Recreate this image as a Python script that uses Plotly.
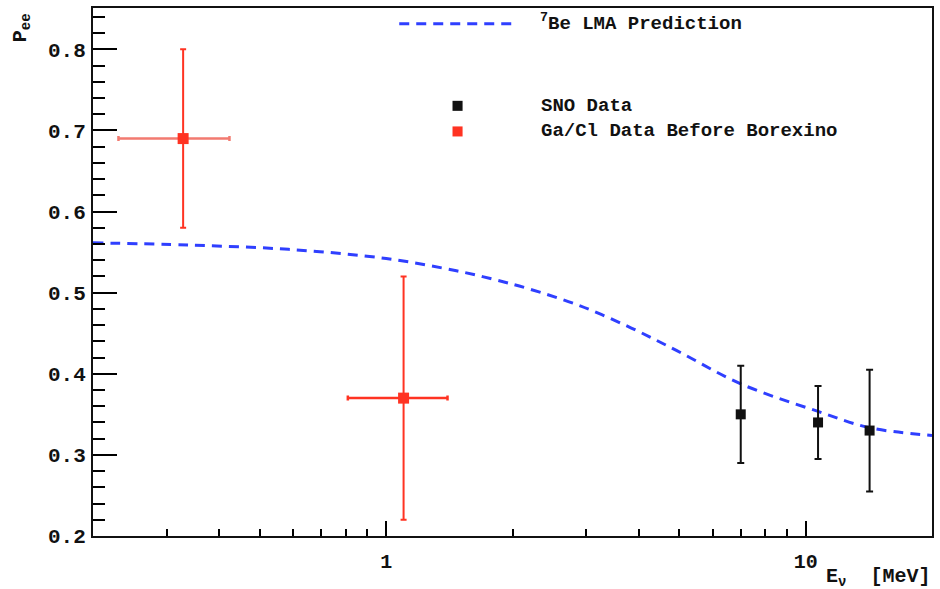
import math
import plotly.graph_objects as go

# ---------------- data ----------------
# 7Be LMA prediction curve
lma_energy = [0.2, 0.338, 0.585, 1.0, 1.47, 1.80, 2.18, 2.90, 3.84, 4.93, 7.0, 10.7, 14.2, 20.0]
lma_pee = [0.5615, 0.5587, 0.5534, 0.5421, 0.527, 0.5165, 0.505, 0.4838, 0.4564, 0.4285,
           0.3876, 0.3536, 0.3335, 0.324]

# SNO data
sno_energy = [7.0, 10.7, 14.2]
sno_pee = [0.35, 0.34, 0.33]
sno_err = [0.06, 0.045, 0.075]

# Ga/Cl data before Borexino
gacl_energy = [0.328, 1.10]
gacl_pee = [0.69, 0.37]
gacl_yerr = [0.11, 0.15]
gacl_xerr_plus = [0.095, 0.30]
gacl_xerr_minus = [0.098, 0.29]

x_major_ticks = [1, 10]
x_major_labels = ["1", "10"]
x_minor_ticks = [0.3, 0.4, 0.5, 0.6, 0.7, 0.8, 0.9, 2, 3, 4, 5, 6, 7, 8, 9]

legend_line_label = "<sup>7</sup>Be LMA Prediction"
legend_sno_label = "SNO Data"
legend_gacl_label = "Ga/Cl Data Before Borexino"

# ---------------- style ----------------
FONT = "Liberation Mono"
BLACK = "#111111"
RED = "#ff3322"
RED_LIGHT = "#f27a70"
BLUE = "#2f3fff"

fig = go.Figure()

fig.add_trace(go.Scatter(
    x=lma_energy, y=lma_pee, mode="lines", line_shape="spline",
    line=dict(color=BLUE, width=3, dash="10px,7px"),
    name="7Be LMA Prediction", showlegend=False, hoverinfo="skip"))

fig.add_trace(go.Scatter(
    x=sno_energy, y=sno_pee, mode="markers",
    marker=dict(symbol="square", size=10, color=BLACK),
    error_y=dict(type="data", array=sno_err, color=BLACK, thickness=2, width=3.5),
    name=legend_sno_label, showlegend=False))

xerr_colors = [RED_LIGHT, RED]
for i in range(len(gacl_energy)):
    fig.add_trace(go.Scatter(
        x=[gacl_energy[i]], y=[gacl_pee[i]], mode="markers",
        marker=dict(symbol="square", size=11, color=RED),
        error_y=dict(type="data", array=[gacl_yerr[i]], color=RED, thickness=2, width=3),
        error_x=dict(type="data", array=[gacl_xerr_plus[i]], arrayminus=[gacl_xerr_minus[i]],
                     color=xerr_colors[i], thickness=2.5, width=2.5),
        name=legend_gacl_label, showlegend=False))

# ---------------- legend (drawn by hand, in paper coordinates) ----------------
shapes = [
    dict(type="line", xref="paper", yref="paper", x0=0.365, x1=0.504, y0=0.970, y1=0.970,
         line=dict(color=BLUE, width=3, dash="10px,7px")),
    dict(type="rect", xref="paper", yref="paper", x0=0.4285, x1=0.4405, y0=0.8052, y1=0.8242,
         fillcolor=BLACK, line=dict(width=0)),
    dict(type="rect", xref="paper", yref="paper", x0=0.4285, x1=0.4405, y0=0.7567, y1=0.7757,
         fillcolor=RED, line=dict(width=0)),
]
annotations = [
    dict(text=legend_line_label, xref="paper", yref="paper", x=0.530, y=0.972,
         xanchor="left", yanchor="middle", showarrow=False,
         font=dict(family=FONT, size=19, color=BLACK, weight="bold")),
    dict(text=legend_sno_label, xref="paper", yref="paper", x=0.532, y=0.8147,
         xanchor="left", yanchor="middle", showarrow=False,
         font=dict(family=FONT, size=19, color=BLACK, weight="bold")),
    dict(text=legend_gacl_label, xref="paper", yref="paper", x=0.532, y=0.7662,
         xanchor="left", yanchor="middle", showarrow=False,
         font=dict(family=FONT, size=19, color=BLACK, weight="bold")),
    # axis titles
    dict(text="E<sub>ν</sub>  [MeV]", xref="paper", yref="paper", x=1.0, y=-0.078,
         xanchor="right", yanchor="middle", showarrow=False,
         font=dict(family=FONT, size=20, color=BLACK, weight="bold")),
    dict(text="P<sub>ee</sub>", xref="paper", yref="paper", x=-0.0856, y=0.962,
         xanchor="center", yanchor="middle", textangle=-90, showarrow=False,
         font=dict(family=FONT, size=20, color=BLACK, weight="bold")),
]

fig.update_layout(
    width=940, height=589,
    margin=dict(l=93, r=6, t=7, b=53),
    paper_bgcolor="white", plot_bgcolor="white",
    showlegend=False,
    shapes=shapes, annotations=annotations,
    xaxis=dict(
        type="log", range=[math.log10(0.2), math.log10(20)],
        tickmode="array", tickvals=x_major_ticks, ticktext=x_major_labels,
        ticks="inside", ticklen=15, tickwidth=2, tickcolor="#000000",
        minor=dict(tickmode="array", tickvals=x_minor_ticks, ticks="inside",
                   ticklen=7, tickwidth=2, tickcolor="#000000", showgrid=False),
        showline=True, linecolor=BLACK, linewidth=2, mirror=True,
        showgrid=False, zeroline=False, ticklabelstandoff=6,
        tickfont=dict(family=FONT, size=20, color=BLACK, weight="bold"),
    ),
    yaxis=dict(
        range=[0.2, 0.851], tick0=0.2, dtick=0.1, tickformat=".1f",
        ticks="inside", ticklen=24, tickwidth=2, tickcolor="#000000",
        minor=dict(tick0=0.2, dtick=0.02, ticks="inside", ticklen=12, tickwidth=2,
                   tickcolor="#000000", showgrid=False),
        showline=True, linecolor=BLACK, linewidth=2, mirror=True,
        showgrid=False, zeroline=False, ticklabelstandoff=1,
        tickfont=dict(family=FONT, size=21, color=BLACK, weight="bold"),
    ),
)

fig.write_html(
    "out.html",
    config={"displayModeBar": False},
    post_script="document.body.style.margin='0';document.body.style.padding='0';",
)
